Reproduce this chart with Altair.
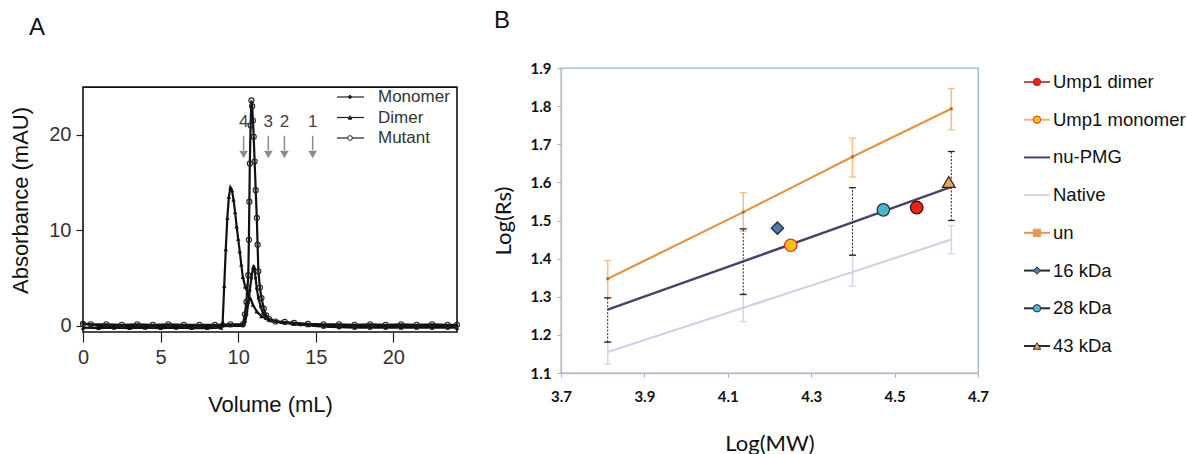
import altair as alt
import pandas as pd

FA = "Liberation Sans"
FB = "Lato"

# ---------------- Panel A data: elution profiles (volume mL, absorbance mAU) ----------------
monomer = [(0, 0.25), (1, 0.0), (2, -0.05), (3, 0.0), (4, -0.05), (5, 0.0), (6, -0.05), (7, -0.05),
           (8, -0.1), (9, -0.05), (10, 0.0), (10.3, 0.0), (10.45, 0.4), (10.55, 1.2), (10.65, 2.4),
           (10.75, 3.7), (10.85, 5.0), (10.95, 6.0), (11.0, 6.2), (11.05, 6.0), (11.12, 5.0),
           (11.2, 3.9), (11.3, 2.9), (11.45, 2.0), (11.6, 1.3), (11.8, 0.8), (12.0, 0.55),
           (12.5, 0.4), (13.0, 0.3), (13.5, 0.2), (14.0, 0.1), (15, 0.05), (16, 0.0), (17, 0.0),
           (18, -0.05), (19, -0.05), (20, 0.0), (21, -0.05), (22, 0.0), (23, -0.05), (24.1, 0.0)]
dimer = [(0, -0.2), (1, -0.25), (2, -0.2), (3, -0.25), (4, -0.2), (5, -0.25), (6, -0.2), (7, -0.25),
         (8, -0.25), (8.9, -0.2), (9.0, 0.4), (9.1, 4.2), (9.2, 8.0), (9.3, 11.3), (9.4, 13.5),
         (9.5, 14.5), (9.6, 14.2), (9.7, 13.2), (9.8, 11.9), (9.9, 10.4), (10.0, 9.1), (10.1, 7.8),
         (10.2, 6.4), (10.3, 5.1), (10.45, 4.1), (10.6, 3.5), (10.8, 2.8), (10.95, 2.2), (11.2, 1.5),
         (11.5, 1.0), (11.8, 0.8), (12.2, 0.55), (12.8, 0.4), (13.5, 0.25), (14.5, 0.05), (15.5, -0.1),
         (16.5, -0.15), (17.5, -0.2), (18.5, -0.2), (19.5, -0.2), (20.5, -0.2), (21.5, -0.2),
         (22.5, -0.2), (23.5, -0.2), (24.1, -0.2)]
mutant = [(0, 0.2), (0.5, 0.15), (1.5, 0.15), (2.5, 0.1), (3.5, 0.15), (4.5, 0.1), (5.5, 0.15),
          (6.5, 0.1), (7.5, 0.1), (8.5, 0.1), (9.5, 0.15), (10.3, 0.15), (10.43, 1.2), (10.53, 2.5),
          (10.6, 4.0), (10.65, 5.3), (10.69, 9.0), (10.72, 13.0), (10.75, 17.0), (10.8, 21.0),
          (10.85, 23.6), (10.9, 23.0), (10.95, 21.5), (11.0, 19.8), (11.06, 17.2), (11.13, 14.2),
          (11.2, 11.3), (11.25, 8.5), (11.3, 5.7), (11.4, 4.0), (11.5, 2.9), (11.65, 1.8),
          (11.8, 1.1), (12.0, 0.7), (12.4, 0.45), (13.0, 0.4), (13.6, 0.3), (14.5, 0.2),
          (15.5, 0.15), (16.5, 0.15), (17.5, 0.1), (18.5, 0.15), (19.5, 0.1), (20.5, 0.15),
          (21.5, 0.1), (22.5, 0.15), (23.5, 0.1), (24.1, 0.1)]
series_A = ["Monomer", "Dimer", "Mutant"]
std_volumes = [10.35, 11.94, 12.98, 14.8]
std_labels = ["4", "3", "2", "1"]

# ---------------- Panel B data: log(Rs) vs log(MW) ----------------
mw_std = [3.812, 4.137, 4.399, 4.636]
un_rs = [1.347, 1.522, 1.667, 1.793]
un_lo = [1.298, 1.472, 1.614, 1.738]
un_hi = [1.395, 1.573, 1.716, 1.846]
nu_rs = [1.266, 1.393, 1.495, 1.588]
nu_lo = [1.181, 1.306, 1.409, 1.500]
nu_hi = [1.297, 1.478, 1.586, 1.681]
nat_rs = [1.155, 1.271, 1.365, 1.450]
nat_lo = [1.123, 1.235, 1.328, 1.413]
nat_hi = [1.181, 1.306, 1.409, 1.487]

pt_names = ["16 kDa", "Ump1 monomer", "28 kDa", "Ump1 dimer", "43 kDa"]
pt_mw = [4.219, 4.251, 4.473, 4.553, 4.630]
pt_rs = [1.480, 1.435, 1.528, 1.534, 1.601]

legB_names = ["Ump1 dimer", "Ump1 monomer", "nu-PMG", "Native", "un", "16 kDa", "28 kDa", "43 kDa"]
legB_marker_names = ["Ump1 dimer", "Ump1 monomer", "un", "16 kDa", "28 kDa", "43 kDa"]

# ---------------- styles ----------------
pt_shapes = ["diamond", "circle", "circle", "circle", "triangle-up"]
pt_fills = ["#4E7DAD", "#F4C20D", "#4CB5CE", "#EC2416", "#F2A35A"]
pt_strokes = ["#1E2C3A", "#E2341F", "#1E3440", "#3A1210", "#2A2A2A"]
pt_sizes = [150, 160, 185, 150, 170]
legB_line_colors = ["#C0504D", "#F6B27C", "#4B4069", "#D9D1E8", "#E39A55", "#1F2D3D", "#1F2D3D", "#1F2D3D"]
legB_shapes = ["circle", "circle", "square", "diamond", "circle", "triangle-up"]
legB_fills = ["#EC2416", "#F4C20D", "#E39A55", "#4E7DAD", "#4CB5CE", "#F2A35A"]
legB_strokes = ["#B0201A", "#E2341F", "#E39A55", "#1E2C3A", "#1E3440", "#2A2A2A"]
legB_sizes = [55, 55, 14, 45, 55, 50]

# ================= Panel A =================
rowsA = []
for name, pts in zip(series_A, [monomer, dimer, mutant]):
    for v, a in pts:
        rowsA.append({"series": name, "vol": v, "abs": a})
dfA = pd.DataFrame(rowsA)

XA_DOMAIN = [0, 24.1]
YA_DOMAIN = [-0.65, 27.0]
FRAME_Y = [-0.65, 25.0]

axA_x = alt.Axis(values=[0, 5, 10, 15, 20], title="Volume (mL)", domain=False, grid=False,
                 tickSize=10, tickColor="#222", tickWidth=1.2, labelFlush=False,
                 labelFont=FA, labelFontSize=20, labelColor="#333", labelPadding=5,
                 titleFont=FA, titleFontSize=22, titleFontWeight="normal", titleColor="#111",
                 titlePadding=27)
axA_y = alt.Axis(values=[0, 10, 20], title="Absorbance (mAU)", domain=False, grid=False,
                 tickSize=7, tickColor="#222", tickWidth=1.2,
                 labelFont=FA, labelFontSize=20, labelColor="#333", labelPadding=5,
                 titleFont=FA, titleFontSize=22, titleFontWeight="normal", titleColor="#111",
                 titlePadding=16)
scA_x = alt.Scale(domain=XA_DOMAIN, nice=False, zero=False)
scA_y = alt.Scale(domain=YA_DOMAIN, nice=False, zero=False)


def xA(field):
    return alt.X(field, type="quantitative", scale=scA_x, axis=axA_x)


def yA(field):
    return alt.Y(field, type="quantitative", scale=scA_y, axis=axA_y)


baseA = alt.Chart(dfA)
linesA = baseA.mark_line(color="#111", strokeWidth=2.2).encode(x=xA("vol"), y=yA("abs"), detail="series:N")
ptsMono = baseA.transform_filter(alt.datum.series == "Monomer").mark_point(
    shape="circle", filled=True, size=10, color="#111", opacity=1).encode(x=xA("vol"), y=yA("abs"))
ptsDimer = baseA.transform_filter(alt.datum.series == "Dimer").mark_point(
    shape="triangle-up", filled=True, size=20, color="#111", opacity=1).encode(x=xA("vol"), y=yA("abs"))
ptsMut = baseA.transform_filter(alt.datum.series == "Mutant").mark_point(
    shape="circle", filled=False, size=26, color="#222", strokeWidth=1.1, opacity=1).encode(x=xA("vol"), y=yA("abs"))

frameA = alt.Chart(pd.DataFrame({"x0": [XA_DOMAIN[0]], "x1": [XA_DOMAIN[1]],
                                 "y0": [FRAME_Y[0]], "y1": [FRAME_Y[1]]})).mark_rect(
    filled=False, stroke="#111", strokeWidth=1.6).encode(x=xA("x0"), x2="x1", y=yA("y0"), y2="y1")

dfStd = pd.DataFrame({"vol": std_volumes, "label": std_labels})
arrowShaft = alt.Chart(dfStd).mark_rule(color="#8C8C8C", strokeWidth=1.5).encode(
    x=xA("vol"), y=alt.YDatum(19.9, scale=scA_y, axis=axA_y), y2=alt.Y2Datum(18.4))
arrowHead = alt.Chart(dfStd).mark_point(shape="triangle-down", filled=True, size=75,
                                        color="#8C8C8C", opacity=1).encode(
    x=xA("vol"), y=alt.YDatum(17.95, scale=scA_y, axis=axA_y))
arrowText = alt.Chart(dfStd).mark_text(font=FA, fontSize=17, color="#444", baseline="middle").encode(
    x=xA("vol"), y=alt.YDatum(21.3, scale=scA_y, axis=axA_y), text="label:N")

mainA = alt.layer(frameA, linesA, ptsMono, ptsDimer, ptsMut, arrowShaft, arrowHead, arrowText)

dfLegA = pd.DataFrame({"name": series_A})
# point scale keeps half-step padding: rows land at 29, 49.5, 70 px
yLegA = alt.Y("name:N", sort=series_A, axis=None,
              scale=alt.Scale(domain=series_A, range=[18.75, 80.25]))
legA_rule = alt.Chart(dfLegA).mark_rule(color="#222", strokeWidth=1.2).encode(
    x=alt.value(254), x2=alt.value(281), y=yLegA)
legA_pts = alt.Chart(dfLegA).mark_point(filled=True, stroke="#222", strokeWidth=1, opacity=1).encode(
    x=alt.value(267), y=yLegA,
    shape=alt.Shape("name:N", scale=alt.Scale(domain=series_A, range=["circle", "triangle-up", "circle"]), legend=None),
    fill=alt.Fill("name:N", scale=alt.Scale(domain=series_A, range=["#222", "#222", "#ffffff"]), legend=None),
    size=alt.Size("name:N", scale=alt.Scale(domain=series_A, range=[8, 22, 30]), legend=None))
legA_txt = alt.Chart(dfLegA).mark_text(align="left", baseline="middle", font=FA, fontSize=17, color="#333").encode(
    x=alt.value(295), y=yLegA, text="name:N")
legendA = alt.layer(legA_rule, legA_pts, legA_txt)

panelA = alt.layer(mainA, legendA).resolve_scale(
    y="independent", shape="independent", fill="independent", size="independent").properties(
    width=374, height=264,
    view=alt.ViewBackground(strokeOpacity=0, strokeWidth=0),
    title=alt.TitleParams("A", anchor="start", frame="group", dx=-54, offset=28,
                          font=FA, fontSize=24, fontWeight="normal", color="#111"))

# ================= Panel B =================
rowsB = []
for name, ys, lo, hi in [("un", un_rs, un_lo, un_hi), ("nu-PMG", nu_rs, nu_lo, nu_hi),
                         ("Native", nat_rs, nat_lo, nat_hi)]:
    for m, y, l, h in zip(mw_std, ys, lo, hi):
        rowsB.append({"series": name, "mw": m, "rs": y, "lo": l, "hi": h})
dfB = pd.DataFrame(rowsB)

scB_x = alt.Scale(domain=[3.7, 4.7], nice=False, zero=False)
scB_y = alt.Scale(domain=[1.1, 1.9], nice=False, zero=False)
axB_x = alt.Axis(values=[3.7, 3.9, 4.1, 4.3, 4.5, 4.7], format=".1f", title="Log(MW)", grid=False,
                 domainColor="#BDBDBD", domainWidth=1.3, tickColor="#AAAAAA", tickSize=4, labelFlush=False,
                 labelFont=FB, labelFontWeight="bold", labelFontSize=15, labelColor="#111", labelPadding=12,
                 titleFont=FB, titleFontSize=22, titleFontWeight="normal", titleColor="#111", titlePadding=29)
axB_y = alt.Axis(values=[1.1, 1.2, 1.3, 1.4, 1.5, 1.6, 1.7, 1.8, 1.9], format=".1f", title="Log(Rs)",
                 grid=False, domainColor="#BDBDBD", domainWidth=1.3, tickColor="#AAAAAA", tickSize=4,
                 labelFont=FB, labelFontWeight="bold", labelFontSize=15, labelColor="#111", labelPadding=6,
                 titleFont=FB, titleFontSize=22, titleFontWeight="normal", titleColor="#111", titlePadding=15)


def xB(field):
    return alt.X(field, type="quantitative", scale=scB_x, axis=axB_x)


def yB(field):
    return alt.Y(field, type="quantitative", scale=scB_y, axis=axB_y)


baseB = alt.Chart(dfB)
err_styles = {"un": dict(color="#F7BE8A", strokeWidth=1.6),
              "Native": dict(color="#DCD3EA", strokeWidth=1.6),
              "nu-PMG": dict(color="#222222", strokeWidth=1.0, strokeDash=[2, 1.5])}
line_styles = {"un": dict(color="#E3943F", strokeWidth=2.2),
               "Native": dict(color="#D6CDE7", strokeWidth=2.2),
               "nu-PMG": dict(color="#4B4069", strokeWidth=2.4)}

err_layers = []
for s in ["Native", "un", "nu-PMG"]:
    b = baseB.transform_filter(alt.datum.series == s)
    st = err_styles[s]
    err_layers.append(b.mark_rule(**st).encode(x=xB("mw"), y=yB("lo"), y2="hi"))
    cap = dict(color=st["color"], thickness=1.3, size=7, orient="horizontal", opacity=1)
    err_layers.append(b.mark_tick(**cap).encode(x=xB("mw"), y=yB("lo")))
    err_layers.append(b.mark_tick(**cap).encode(x=xB("mw"), y=yB("hi")))

line_layers = []
for s in ["Native", "un", "nu-PMG"]:
    b = baseB.transform_filter(alt.datum.series == s)
    line_layers.append(b.mark_line(**line_styles[s]).encode(x=xB("mw"), y=yB("rs")))
un_marks = baseB.transform_filter(alt.datum.series == "un").mark_point(
    shape="square", filled=True, size=8, color="#B86A2A", opacity=1).encode(x=xB("mw"), y=yB("rs"))

dfPts = pd.DataFrame({"name": pt_names, "mw": pt_mw, "rs": pt_rs})
ptsB = alt.Chart(dfPts).mark_point(filled=True, strokeWidth=1.3, opacity=1).encode(
    x=xB("mw"), y=yB("rs"),
    shape=alt.Shape("name:N", scale=alt.Scale(domain=pt_names, range=pt_shapes), legend=None),
    fill=alt.Fill("name:N", scale=alt.Scale(domain=pt_names, range=pt_fills), legend=None),
    stroke=alt.Stroke("name:N", scale=alt.Scale(domain=pt_names, range=pt_strokes), legend=None),
    size=alt.Size("name:N", scale=alt.Scale(domain=pt_names, range=pt_sizes), legend=None))

mainB = alt.layer(*err_layers, *line_layers, un_marks, ptsB)

dfLegB = pd.DataFrame({"name": legB_names})
dfLegBm = pd.DataFrame({"name": legB_marker_names})
# point scale keeps half-step padding: rows land at 14 ... 278 px
yLegB = alt.Y("name:N", sort=legB_names, axis=None,
              scale=alt.Scale(domain=legB_names, range=[-4.86, 296.86]))
legB_rule = alt.Chart(dfLegB).mark_rule(strokeWidth=2).encode(
    x=alt.value(463), x2=alt.value(489), y=yLegB,
    color=alt.Color("name:N", scale=alt.Scale(domain=legB_names, range=legB_line_colors), legend=None))
legB_pts = alt.Chart(dfLegBm).mark_point(filled=True, strokeWidth=1, opacity=1).encode(
    x=alt.value(476), y=yLegB,
    shape=alt.Shape("name:N", scale=alt.Scale(domain=legB_marker_names, range=legB_shapes), legend=None),
    fill=alt.Fill("name:N", scale=alt.Scale(domain=legB_marker_names, range=legB_fills), legend=None),
    stroke=alt.Stroke("name:N", scale=alt.Scale(domain=legB_marker_names, range=legB_strokes), legend=None),
    size=alt.Size("name:N", scale=alt.Scale(domain=legB_marker_names, range=legB_sizes), legend=None))
legB_txt = alt.Chart(dfLegB).mark_text(align="left", baseline="middle", font=FA, fontSize=18.5, color="#111").encode(
    x=alt.value(492), y=yLegB, text="name:N")
legendB = alt.layer(legB_rule, legB_pts, legB_txt)

panelB = alt.layer(mainB, legendB).resolve_scale(
    y="independent", shape="independent", fill="independent", stroke="independent",
    size="independent", color="independent").properties(
    width=417, height=305,
    view=alt.ViewBackground(stroke="#95B3D7", strokeWidth=1.3),
    title=alt.TitleParams("B", anchor="start", frame="group", dx=-67, offset=28,
                          font=FA, fontSize=24, fontWeight="normal", color="#111"))

chart = alt.hconcat(panelA, panelB, spacing=104, bounds="flush").properties(
    padding={"left": 9, "top": 8, "right": 0, "bottom": 0}).configure(background="white")

chart.save("out.html", embed_options={"renderer": "svg", "actions": False})
